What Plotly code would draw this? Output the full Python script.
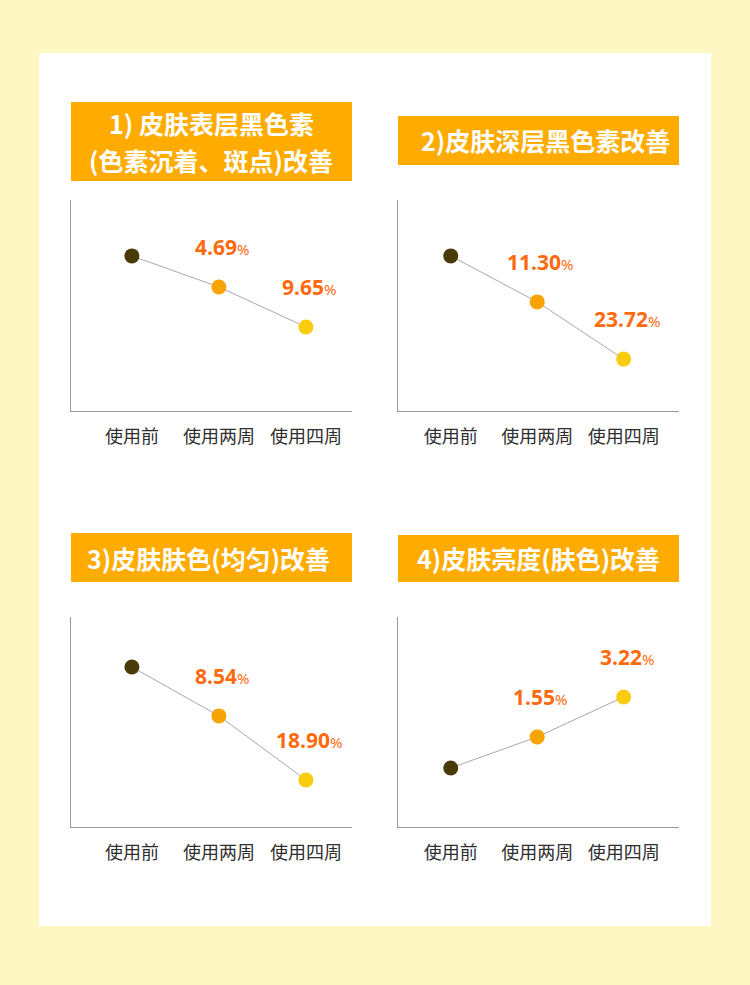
import plotly.graph_objects as go

W, H = 750, 985

categories = ["使用前", "使用两周", "使用四周"]
titles = [
    ["1) 皮肤表层黑色素", "(色素沉着、斑点)改善"],
    ["2)皮肤深层黑色素改善"],
    ["3)皮肤肤色(均匀)改善"],
    ["4)皮肤亮度(肤色)改善"],
]
level_1 = [73.5, 58.8, 39.8]
level_2 = [73.5, 51.7, 24.6]
level_3 = [76.2, 52.9, 22.4]
level_4 = [28.1, 42.9, 61.9]
change_1 = ["", "4.69", "9.65"]
change_2 = ["", "11.30", "23.72"]
change_3 = ["", "8.54", "18.90"]
change_4 = ["", "1.55", "3.22"]

levels = [level_1, level_2, level_3, level_4]
changes = [change_1, change_2, change_3, change_4]
marker_colors = ["#4A3A08", "#F7A300", "#F9CC10"]

def px_x(p):
    return p / W

def px_y(p):
    return 1 - p / H

# panel geometry in pixels: (axis left, axis right, axis top, axis bottom)
panels = [
    (71, 352, 200, 411),
    (398, 679, 200, 411),
    (71, 352, 617, 827),
    (398, 679, 617, 827),
]
xranges = [[-0.7, 2.53], [-0.61, 2.64], [-0.7, 2.53], [-0.61, 2.64]]
# title boxes (x0, x1, y0, y1) pixels
title_boxes = [
    (71, 352, 102, 181),
    (398, 679, 116, 165),
    (71, 352, 533, 582),
    (398, 679, 535, 582),
]
title_xshift = [0, 7, -3, 0]
line_gap = 36.5

fig = go.Figure()
layout = dict(
    width=W, height=H,
    margin=dict(l=0, r=0, t=0, b=0),
    paper_bgcolor="#FEF6C3",
    plot_bgcolor="rgba(0,0,0,0)",
    showlegend=False,
    font=dict(family="Noto Sans CJK SC", color="#333333"),
)
shapes = [dict(type="rect", xref="paper", yref="paper",
               x0=px_x(39), x1=px_x(711), y0=px_y(926), y1=px_y(53),
               fillcolor="#FFFFFF", line=dict(width=0), layer="below")]
annotations = []

xs = list(range(len(categories)))

for i in range(4):
    xa = "xaxis" if i == 0 else f"xaxis{i+1}"
    ya = "yaxis" if i == 0 else f"yaxis{i+1}"
    xr = "x" if i == 0 else f"x{i+1}"
    yr = "y" if i == 0 else f"y{i+1}"
    l, r, t, b = panels[i]
    fig.add_trace(go.Scatter(
        x=xs, y=levels[i], mode="lines+markers", xaxis=xr, yaxis=yr,
        line=dict(color="#A8A8A8", width=1),
        marker=dict(size=15, color=marker_colors, line=dict(width=0)),
        hoverinfo="skip",
    ))
    layout[xa] = dict(
        domain=[px_x(l), px_x(r)], anchor=yr, range=xranges[i],
        tickmode="array", tickvals=xs, ticktext=categories,
        showgrid=False, zeroline=False, showline=True, linecolor="#999999",
        linewidth=1, ticks="", ticklabelstandoff=9,
        tickfont=dict(size=18, color="#2E2E2E", family="Noto Sans CJK SC"),
        fixedrange=True,
    )
    layout[ya] = dict(
        domain=[px_y(b), px_y(t)], anchor=xr, range=[0, 100],
        showgrid=False, zeroline=False, showline=True, linecolor="#999999",
        linewidth=1, showticklabels=False, ticks="", fixedrange=True,
    )
    tx0, tx1, ty0, ty1 = title_boxes[i]
    shapes.append(dict(type="rect", xref="paper", yref="paper",
                       x0=px_x(tx0), x1=px_x(tx1), y0=px_y(ty1), y1=px_y(ty0),
                       fillcolor="#FFAB00", line=dict(width=0)))
    n = len(titles[i])
    for k, line in enumerate(titles[i]):
        offset = (k - (n - 1) / 2) * line_gap
        annotations.append(dict(
            xref="paper", yref="paper", x=(px_x(tx0) + px_x(tx1)) / 2,
            y=(px_y(ty0) + px_y(ty1)) / 2, yshift=-offset,
            xanchor="center", yanchor="middle",
            text=f"<b>{line}</b>", showarrow=False, xshift=title_xshift[i],
            font=dict(size=25, color="#FFFFFF", family="Noto Sans CJK SC"),
        ))
    for j, c in enumerate(changes[i]):
        if not c:
            continue
        annotations.append(dict(
            xref=xr, yref=yr, x=xs[j], y=levels[i][j], yshift=40, xshift=3,
            xanchor="center", yanchor="middle", showarrow=False,
            text=f"<b>{c}</b><span style='font-size:15px'>%</span>",
            font=dict(size=21, color="#FF6A0E", family="Noto Sans"),
        ))

layout["shapes"] = shapes
layout["annotations"] = annotations
fig.update_layout(**layout)
fig.write_html("out.html")
